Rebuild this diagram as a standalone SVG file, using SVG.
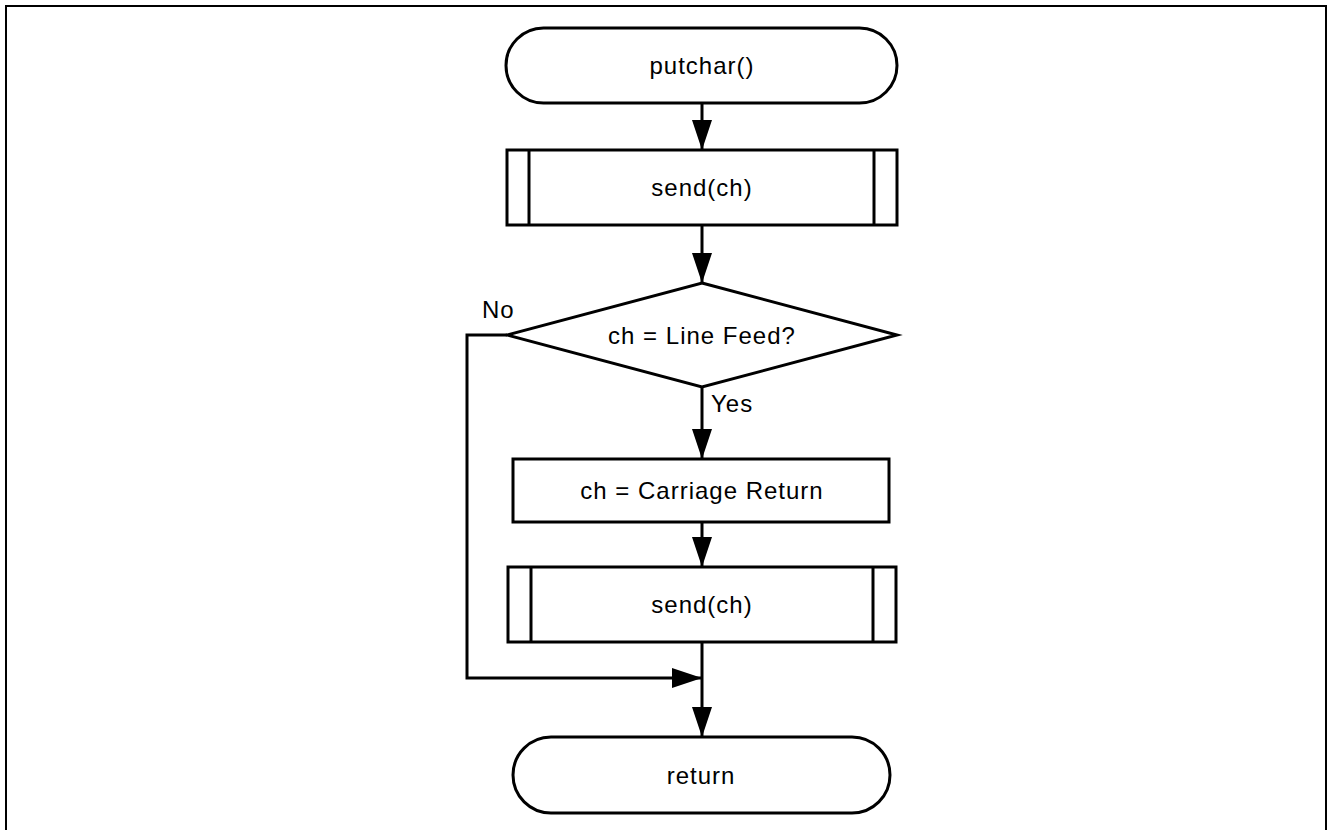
<svg xmlns="http://www.w3.org/2000/svg" width="1328" height="830" viewBox="0 0 1328 830">
<style>
.s{fill:#fff;stroke:#000;stroke-width:3}
.l{fill:none;stroke:#000;stroke-width:3}
.t{font-family:"Liberation Sans",Arial,sans-serif;font-size:24px;fill:#000;letter-spacing:1px}
.c{text-anchor:middle;dominant-baseline:central}
</style>
<defs>
<marker id="ah" markerUnits="userSpaceOnUse" markerWidth="30" markerHeight="20" refX="30" refY="10" orient="auto">
<path d="M0,0 L30,10 L0,20 Z" fill="#000"/>
</marker>
</defs>
<rect x="0" y="0" width="1328" height="830" fill="#fff"/>
<rect x="6" y="6" width="1320" height="900" fill="none" stroke="#000" stroke-width="2"/>
<g id="connectors">
<line class="l" x1="702" y1="103" x2="702" y2="150" marker-end="url(#ah)"/>
<line class="l" x1="702" y1="225" x2="702" y2="283" marker-end="url(#ah)"/>
<line class="l" x1="702" y1="387" x2="702" y2="459" marker-end="url(#ah)"/>
<line class="l" x1="702" y1="522" x2="702" y2="567" marker-end="url(#ah)"/>
<polyline class="l" points="507,335 467,335 467,678 702,678" marker-end="url(#ah)"/>
<line class="l" x1="702" y1="642" x2="702" y2="737" marker-end="url(#ah)"/>
<text class="t" x="482" y="318">No</text>
<text class="t" x="711" y="412">Yes</text>
</g>
<g id="start">
<rect class="s" x="506" y="28" width="391" height="75" rx="37.5"/>
<text class="t c" x="702" y="65.5">putchar()</text>
</g>
<g id="send1">
<rect class="s" x="507" y="150" width="390" height="75"/>
<line class="l" x1="529" y1="150" x2="529" y2="225"/>
<line class="l" x1="874" y1="150" x2="874" y2="225"/>
<text class="t c" x="702" y="187.5">send(ch)</text>
</g>
<g id="decision">
<polygon class="s" points="702,283 897,335 702,387 507,335"/>
<text class="t c" x="702" y="335">ch = Line Feed?</text>
</g>
<g id="assign">
<rect class="s" x="513" y="459" width="376" height="63"/>
<text class="t c" x="702" y="490.5">ch = Carriage Return</text>
</g>
<g id="send2">
<rect class="s" x="508" y="567" width="388" height="75"/>
<line class="l" x1="531" y1="567" x2="531" y2="642"/>
<line class="l" x1="873" y1="567" x2="873" y2="642"/>
<text class="t c" x="702" y="604.5">send(ch)</text>
</g>
<g id="end">
<rect class="s" x="513" y="737" width="377" height="76" rx="38"/>
<text class="t c" x="701" y="775">return</text>
</g>
</svg>
